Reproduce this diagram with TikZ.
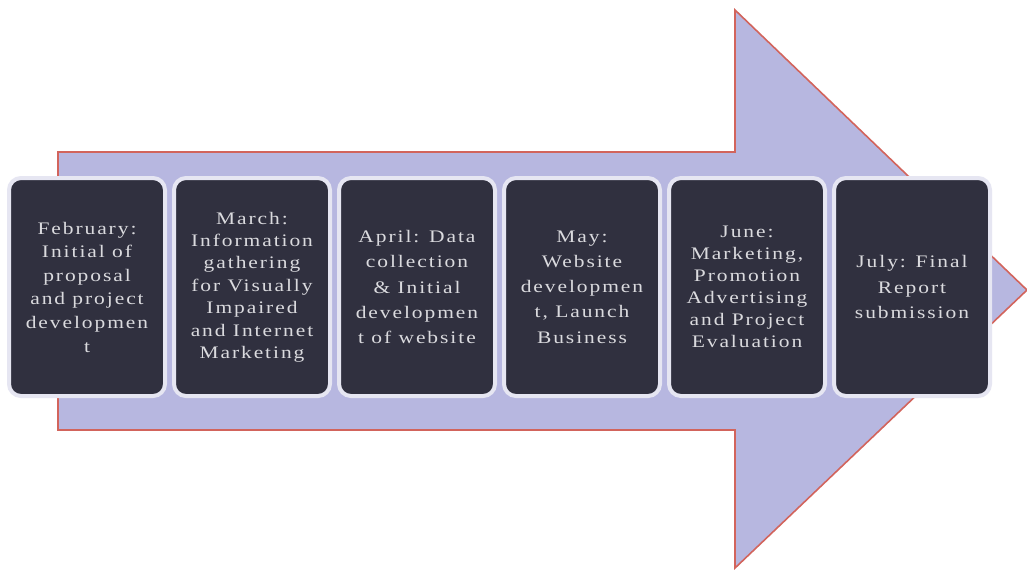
\documentclass[tikz,border=0pt]{standalone}
\usepackage{fontspec}
\usetikzlibrary{positioning}
\newfontfamily\monthfont[LetterSpace=11,FakeStretch=1.22]{Liberation Serif}

\definecolor{arrowfill}{HTML}{B7B7E0}
\definecolor{arrowedge}{HTML}{D2645C}
\definecolor{boxfill}{HTML}{30303F}
\definecolor{boxedge}{HTML}{E6E6F2}
\definecolor{boxtext}{HTML}{DADADE}

\begin{document}
\begin{tikzpicture}[x=0.5pt,y=-0.5pt,
        month/.style={draw=boxedge,fill=boxfill,line width=2pt,rounded corners=6pt,
            minimum width=78pt,minimum height=109pt,inner sep=1pt,align=center,
            text=boxtext,font=\monthfont\fontsize{8.8}{#1}\selectfont},
        month/.default=11.8,
        node distance=2.5pt]
        \useasboundingbox (0,0) rectangle (1027,570);
        \fill[white] (0,0) rectangle (1027,570);

        % big arrow behind the months
        \draw[arrowedge,fill=arrowfill,line width=0.8pt] (58,152) -- (735,152) -- (735,10) -- (1027,290)
            -- (735,568) -- (735,430) -- (58,430) -- cycle;

        \node[month] (feb) at (87,287) {February:\\Initial of\\proposal\\and project\\developmen\\t};
        \node[month=11.2,right=of feb] (mar) {March:\\Information\\gathering\\for Visually\\Impaired\\and Internet\\Marketing};
        \node[month=12.6,right=of mar] (apr) {April: Data\\collection\\\& Initial\\developmen\\t of website};
        \node[month=12.6,right=of apr] (may) {May:\\Website\\developmen\\t, Launch\\Business};
        \node[month=11,right=of may] (jun) {June:\\Marketing,\\Promotion\\Advertising\\and Project\\Evaluation};
        \node[month=12.6,right=of jun] (jul) {July: Final\\Report\\submission};
    \end{tikzpicture}
\end{document}
